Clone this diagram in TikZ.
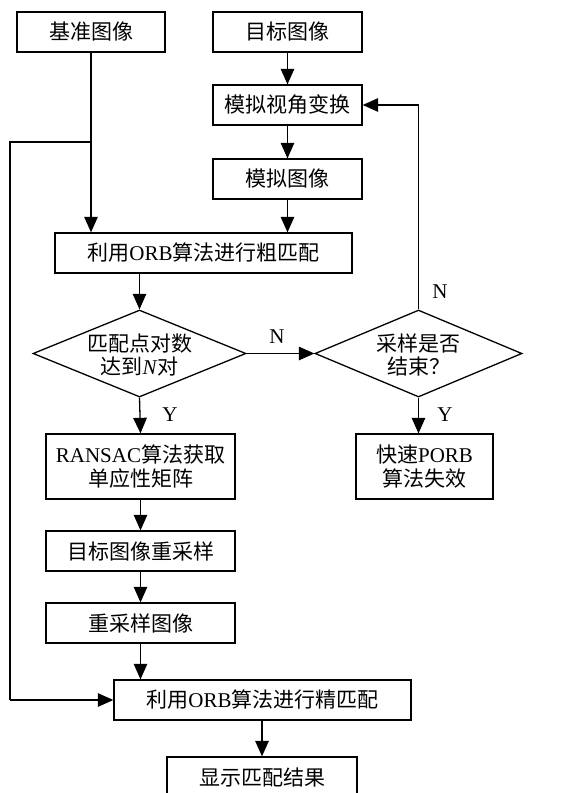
\documentclass[tikz,border=0pt]{standalone}
\usepackage{fontspec}
\setmainfont{Liberation Serif}
\newfontfamily\cjk{Noto Sans CJK SC}
\newcommand\en[1]{{\rmfamily #1}}
\usetikzlibrary{shapes.geometric,arrows.meta}
\begin{document}
\begin{tikzpicture}[x=1pt,y=-1pt,
  line width=1.3pt,
  box/.style={draw,rectangle,inner sep=0pt,minimum height=40pt,font=\cjk\fontsize{21}{24}\selectfont,align=center},
  dia/.style={draw,diamond,inner sep=0pt},
  dtext/.style={inner sep=0pt,font=\cjk\fontsize{21}{23}\selectfont,align=center},
  lab/.style={font=\fontsize{21}{24}\selectfont,inner sep=0pt},
  arr/.style={-{Triangle[length=15.5pt,width=13.5pt]}}]
\useasboundingbox (0,0) rectangle (560,793);
\node[box,minimum width=148pt] (ref) at (91,32) {基准图像};
\node[box,minimum width=149pt] (tgt) at (287.5,32) {目标图像};
\node[box,minimum width=149pt] (sim) at (287.5,105) {模拟视角变换};
\node[box,minimum width=149pt] (simimg) at (287.5,179) {模拟图像};
\node[box,minimum width=297pt] (coarse) at (203.5,253) {利用\en{ORB}算法进行粗匹配};
\node[dia,minimum width=213pt,minimum height=87pt] (d1) at (139.5,353.5) {};
\node[dtext] (d1t) at (139.5,355) {匹配点对数\\达到\en{\textit{N}}对};
\node[dia,minimum width=207pt,minimum height=87pt] (d2) at (418.5,353.5) {};
\node[dtext] (d2t) at (418.5,355) {采样是否\\结束？};
\node[box,minimum width=189pt,minimum height=65pt] (ransac) at (140.5,466.5) {\en{RANSAC}算法获取\\单应性矩阵};
\node[box,minimum width=137pt,minimum height=65pt] (fail) at (424.5,466.5) {快速\en{PORB}\\算法失效};
\node[box,minimum width=189pt] (resamp) at (140.5,551) {目标图像重采样};
\node[box,minimum width=189pt] (rsimg) at (140.5,623) {重采样图像};
\node[box,minimum width=297pt] (fine) at (262.5,700) {利用\en{ORB}算法进行精匹配};
\node[box,minimum width=190pt] (show) at (262,777) {显示匹配结果};
\coordinate (lc) at (10,142);
\draw[arr] (ref.south) -- (ref.south |- coarse.north);
\draw (ref.south |- lc) -- (lc) -- (lc |- fine.west);
\draw[arr] (lc |- fine.west) -- (fine.west);
\draw[arr] (tgt) -- (sim);
\draw[arr] (sim) -- (simimg);
\draw[arr] (simimg.south) -- (simimg.south |- coarse.north);
\draw[arr] (d1.north |- coarse.south) -- (d1.north);
\draw[arr] (d1.east) -- (d2.west);
\draw[arr] (d2.north) -- (d2.north |- sim.east) -- (sim.east);
\draw[arr] (d1.south) -- (ransac.north);
\draw[arr] (d2.south) -- (d2.south |- fail.north);
\draw[arr] (ransac) -- (resamp);
\draw[arr] (resamp) -- (rsimg);
\draw[arr] (rsimg.south) -- (rsimg.south |- fine.north);
\draw[arr] (fine.south -| show.north) -- (show.north);
\node[lab] (ln1) at (277,337) {N};
\node[lab] (ln2) at (440,292) {N};
\node[lab] (ly1) at (170,415) {Y};
\node[lab] (ly2) at (445,415) {Y};
\end{tikzpicture}
\end{document}
